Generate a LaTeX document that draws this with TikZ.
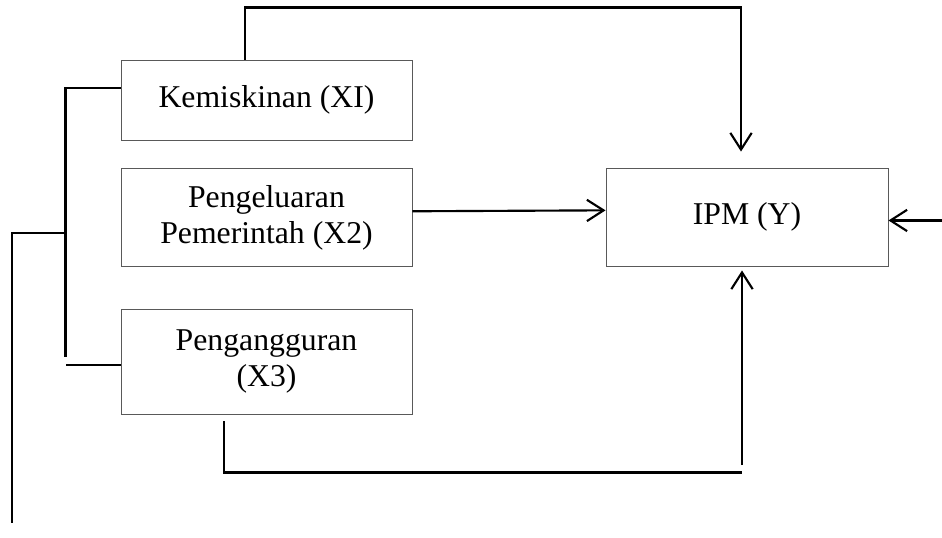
\documentclass[tikz,border=0pt]{standalone}
\usepackage{fontspec}
\setmainfont{Liberation Serif}
\usetikzlibrary{arrows.meta, positioning}

\tikzset{
  box/.style={draw=black!65, line width=0.7pt, rectangle, align=center, inner sep=0pt,
    minimum width=218.25pt, font=\fontsize{23.8}{26.8}\selectfont},
  link/.style={line width=1.6pt},
  >={Straight Barb[length=12.5pt,width=16pt]}
}

\begin{document}
\begin{tikzpicture}[x=0.75pt, y=-0.75pt]
    \useasboundingbox (0,0) rectangle (942,537);

    \node [box, minimum height=60pt] (kemiskinan) at (266.5,100) {Kemiskinan (XI)};
    \node [box, minimum height=73.5pt, below=21pt of kemiskinan] (pengeluaran)
      {Pengeluaran\\ Pemerintah (X2)};
    \node [box, minimum height=78.75pt, below=31pt of pengeluaran] (pengangguran)
      {Pengangguran\\ (X3)};
    \node [box, minimum width=211.5pt, minimum height=73.5pt] (ipm) at (747,217) {IPM (Y)};

    % garis kiri
    \coordinate (sambung) at (66,233);
    \draw[link] ([yshift=9pt]kemiskinan.west) -- ++(-55,0) -- ++(0,269);
    \draw[link] ([yshift=-2.6pt]pengangguran.west) -- ++(-55,0);
    \draw[link] (sambung) -- ++(-54,0) -- ++(0,290);

    % panah ke IPM
    \draw[link, ->] ([xshift=-16pt]kemiskinan.north) |- ([xshift=-4.5pt,yshift=120pt]ipm.north)
      -- ([xshift=-4.5pt,yshift=12pt]ipm.north);
    \draw[link, ->] ([yshift=5pt]pengeluaran.east) -- ([yshift=5pt]ipm.west);
    \draw[link, <-] ([yshift=-2.6pt]ipm.east) -- ++(54,0);
    \draw[link] ([xshift=-32pt,yshift=-5pt]pengangguran.south) |- ([xshift=-3.75pt,yshift=-154.5pt]ipm.south);
    \draw[link, ->] ([xshift=-3.75pt,yshift=-149pt]ipm.south) -- ([xshift=-3.75pt,yshift=-3pt]ipm.south);
\end{tikzpicture}
\end{document}
